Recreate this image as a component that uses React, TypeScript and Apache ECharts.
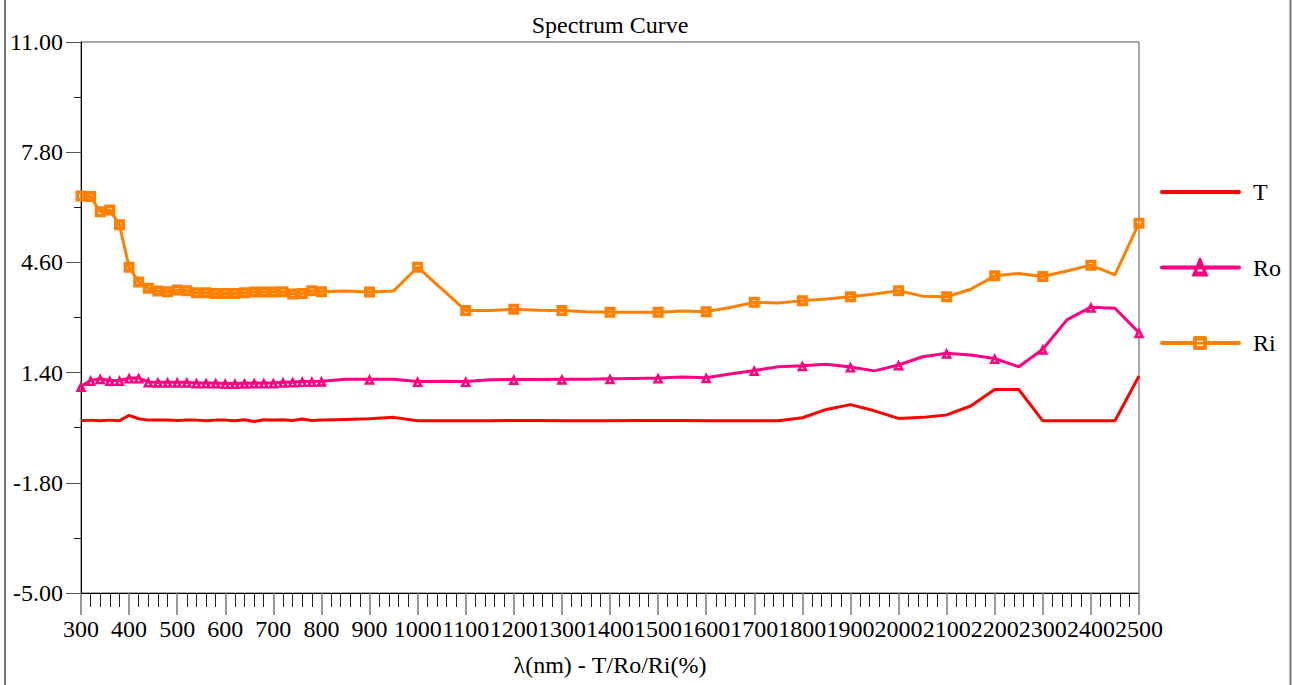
import React, { useEffect, useRef } from "react";
import * as echarts from "echarts";

const FONT = "Liberation Serif";

const wavelengths: number[] = [
  300, 320, 340, 360, 380, 400, 420, 440, 460, 480, 500, 520, 540, 560, 580, 600, 620, 640, 660, 680, 700, 720, 740, 760, 780, 800,
  850, 900, 950, 1000, 1050, 1100, 1150, 1200, 1250, 1300, 1350, 1400, 1450, 1500, 1550, 1600, 1650, 1700, 1750, 1800, 1850, 1900,
  1950, 2000, 2050, 2100, 2150, 2200, 2250, 2300, 2350, 2400, 2450, 2500,
];

const seriesT: number[] = [
  0.0, 0.02, 0.0, 0.02, 0.0, 0.16, 0.06, 0.02, 0.02, 0.02, 0.01, 0.02, 0.02, 0.0, 0.02, 0.02, 0.0, 0.03, -0.02, 0.03, 0.02, 0.03, 0.01, 0.05, 0.01, 0.02,
  0.04, 0.06, 0.1, 0.0, 0.0, 0.0, 0.0, 0.01, 0.01, 0.0, 0.0, 0.0, 0.01, 0.01, 0.01, 0.0, 0.0, 0.0, 0.0, 0.09, 0.33, 0.47,
  0.29, 0.07, 0.1, 0.17, 0.43, 0.91, 0.91, 0.0, 0.0, 0.0, 0.0, 1.3,
];

const seriesRo: number[] = [
  1.0, 1.17, 1.22, 1.17, 1.17, 1.24, 1.24, 1.13, 1.12, 1.12, 1.12, 1.12, 1.1, 1.1, 1.1, 1.08, 1.08, 1.09, 1.1, 1.1, 1.1, 1.12, 1.13, 1.14, 1.14, 1.15,
  1.21, 1.21, 1.21, 1.14, 1.15, 1.14, 1.19, 1.2, 1.2, 1.21, 1.21, 1.22, 1.23, 1.24, 1.27, 1.25, 1.36, 1.46, 1.57, 1.6, 1.64, 1.56,
  1.45, 1.62, 1.86, 1.96, 1.91, 1.81, 1.57, 2.08, 2.93, 3.3, 3.27, 2.56,
];

const seriesRi: number[] = [
  6.53, 6.51, 6.07, 6.12, 5.69, 4.46, 4.03, 3.85, 3.77, 3.75, 3.8, 3.78, 3.72, 3.72, 3.7, 3.7, 3.7, 3.72, 3.74, 3.74, 3.74, 3.75, 3.68, 3.7, 3.78, 3.75,
  3.77, 3.74, 3.77, 4.46, 3.83, 3.2, 3.2, 3.24, 3.21, 3.2, 3.17, 3.15, 3.15, 3.15, 3.19, 3.17, 3.29, 3.44, 3.42, 3.49, 3.54, 3.6,
  3.68, 3.78, 3.62, 3.6, 3.82, 4.21, 4.28, 4.19, 4.35, 4.52, 4.24, 5.74,
];

const seriesNames: string[] = ["T", "Ro", "Ri"];
const seriesColors: string[] = ["#FF0000", "#FF0080", "#FF8000"];

const Y_MIN = -5;
const Y_MAX = 11;
const Y_STEP = 3.2;
const X_MIN = 300;
const X_MAX = 2500;

const SQUARE = "path://M0,0H10V10H0Z M3.3,3.3V6.7H6.7V3.3Z";
const TRIANGLE = "path://M5,0L10,10H0Z M5,5.2L3.9,7.8H6.1Z";

function buildData(values: number[], hasSymbol: boolean) {
  return wavelengths.map((w, i) => {
    const v = values[i] - Y_MIN;
    const marked = hasSymbol && (w <= 800 || w % 100 === 0);
    return marked ? { value: [w, v] } : { value: [w, v], symbol: "none" };
  });
}

export default function App() {
  const ref = useRef<HTMLDivElement>(null);

  useEffect(() => {
    if (!ref.current) return;
    const chart = echarts.init(ref.current, undefined, { renderer: "svg" });
    const symbols = ["none", TRIANGLE, SQUARE];
    const sizes = [0, 11, 11];
    const values = [seriesT, seriesRo, seriesRi];

    const legendTop = 192;
    const legendStep = 75.5;
    const legendGraphics: any[] = [];
    seriesNames.forEach((name, i) => {
      const cy = legendTop + i * legendStep;
      legendGraphics.push({
        type: "line",
        shape: { x1: 1162, y1: cy, x2: 1239, y2: cy },
        style: { stroke: seriesColors[i], lineWidth: 4, lineCap: "round" },
      });
      if (i === 1) {
        legendGraphics.push({
          type: "polygon",
          shape: { points: [[1200, cy - 9], [1207, cy + 8], [1193, cy + 8]] },
          style: { fill: seriesColors[i], stroke: seriesColors[i], lineWidth: 2, lineJoin: "round" },
        });
        legendGraphics.push({
          type: "rect",
          shape: { x: 1197.5, y: cy + 2, width: 5, height: 2 },
          style: { fill: "#fff" },
        });
      }
      if (i === 2) {
        legendGraphics.push({
          type: "rect",
          shape: { x: 1193, y: cy - 7, width: 14, height: 14, r: 2 },
          style: { fill: seriesColors[i] },
        });
        legendGraphics.push({
          type: "rect",
          shape: { x: 1197, y: cy - 2.5, width: 6, height: 1.5 },
          style: { fill: "#fff" },
        });
        legendGraphics.push({
          type: "rect",
          shape: { x: 1197, y: cy + 1.5, width: 6, height: 1.5 },
          style: { fill: "#fff" },
        });
      }
      legendGraphics.push({
        type: "text",
        x: 1253,
        y: cy,
        style: { text: name, fontFamily: FONT, fontSize: 24, fill: "#000", align: "left", verticalAlign: "middle" },
      });
    });

    chart.setOption({
      animation: false,
      backgroundColor: "#ffffff",
      textStyle: { fontFamily: FONT },
      title: {
        text: "Spectrum Curve",
        left: 610,
        textAlign: "center",
        top: 13,
        padding: 0,
        textStyle: { fontFamily: FONT, fontSize: 24, fontWeight: "normal", color: "#000" },
      },
      grid: {
        left: 81,
        right: 153,
        top: 42,
        bottom: 92,
        show: true,
        borderColor: "#555",
        borderWidth: 1,
        containLabel: false,
      },
      xAxis: {
        type: "value",
        min: X_MIN,
        max: X_MAX,
        interval: 100,
        name: "λ(nm) - T/Ro/Ri(%)",
        nameLocation: "middle",
        nameGap: 60,
        nameTextStyle: { fontFamily: FONT, fontSize: 24, color: "#000" },
        axisLine: { show: true, lineStyle: { color: "#000", width: 1 } },
        axisTick: { show: true, length: 22, lineStyle: { color: "#777", width: 1.5 } },
        minorTick: { show: true, splitNumber: 5, length: 14, lineStyle: { color: "#222", width: 1 } },
        splitLine: { show: false },
        axisLabel: {
          fontFamily: FONT,
          fontSize: 24,
          color: "#000",
          margin: 24,
          showMinLabel: true,
          showMaxLabel: true,
          hideOverlap: false,
          formatter: (v: number) => String(Math.round(v)),
        },
      },
      yAxis: {
        type: "value",
        min: 0,
        max: Y_MAX - Y_MIN,
        interval: Y_STEP,
        axisLine: { show: true, lineStyle: { color: "#000", width: 1 } },
        axisTick: { show: true, length: 15, lineStyle: { color: "#555", width: 1 } },
        minorTick: { show: true, splitNumber: 2, length: 7, lineStyle: { color: "#222", width: 1 } },
        splitLine: { show: false },
        axisLabel: {
          fontFamily: FONT,
          fontSize: 24,
          color: "#000",
          margin: 18,
          formatter: (v: number) => (v + Y_MIN).toFixed(2),
        },
      },
      graphic: [
        { type: "line", shape: { x1: 5, y1: 0, x2: 5, y2: 685 }, style: { stroke: "#777", lineWidth: 2 } },
        { type: "line", shape: { x1: 1290.5, y1: 0, x2: 1290.5, y2: 685 }, style: { stroke: "#777", lineWidth: 2 } },
        ...legendGraphics,
      ],
      series: seriesNames.map((name, i) => ({
        name,
        type: "line",
        data: buildData(values[i], i > 0),
        symbol: symbols[i],
        symbolSize: sizes[i],
        showAllSymbol: true,
        lineStyle: { color: seriesColors[i], width: 3 },
        itemStyle: { color: seriesColors[i], borderWidth: 0 },
        emphasis: { disabled: true },
        z: 5 - i,
      })),
    });

    return () => chart.dispose();
  }, []);

  return <div ref={ref} style={{ position: "absolute", left: 0, top: 0, width: 1292, height: 685 }} />;
}
